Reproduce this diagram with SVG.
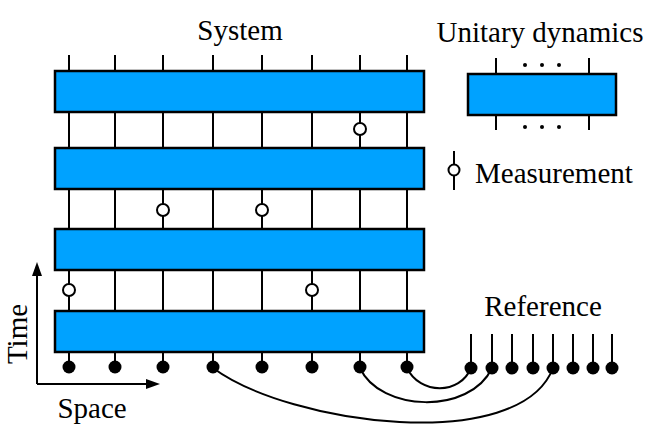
<svg xmlns="http://www.w3.org/2000/svg" width="653" height="438" viewBox="0 0 653 438">
<defs>
<style>
.box{fill:#00a2ff;stroke:#000;stroke-width:2.5}
.w{stroke:#000;stroke-width:2;fill:none}
.m{fill:#fff;stroke:#000;stroke-width:2}
.d{fill:#000}
.t{font-family:"Liberation Serif","Times New Roman",serif;font-size:29px;fill:#000}
.c{stroke:#000;stroke-width:2;fill:none}
</style>
</defs>
<rect width="653" height="438" fill="#fff"/>
<g id="labels">
<text class="t" x="240" y="40" text-anchor="middle">System</text>
<text class="t" x="540" y="42" text-anchor="middle">Unitary dynamics</text>
<text class="t" x="543" y="316" text-anchor="middle">Reference</text>
<text class="t" x="92" y="418" text-anchor="middle">Space</text>
<text class="t" transform="translate(27,334) rotate(-90)" text-anchor="middle">Time</text>
</g>
<g id="wires">
<path class="w" d="M69,55V367M115,55V367M163,55V367M213,55V367M262,55V367M312,55V367M360,55V367M407,55V367"/>
</g>
<g id="gates">
<rect id="layer1" class="box" x="55" y="71" width="369" height="41"/>
<rect id="layer2" class="box" x="55" y="148" width="369" height="41"/>
<rect id="layer3" class="box" x="55" y="229" width="369" height="41"/>
<rect id="layer4" class="box" x="55" y="311" width="369" height="41"/>
</g>
<g id="measurements">
<circle class="m" cx="360" cy="129" r="6"/>
<circle class="m" cx="163" cy="210" r="6"/>
<circle class="m" cx="262" cy="210" r="6"/>
<circle class="m" cx="69" cy="290" r="6"/>
<circle class="m" cx="312" cy="290" r="6"/>
</g>
<g id="connectors">
<path class="c" d="M407,368 C420,395 460,395 471,368"/>
<path class="c" d="M360,368 C380,412 470,415 492,368"/>
<path class="c" d="M213,368 C290,425 520,455 553,368"/>
</g>
<g id="system-dots">
<circle class="d" cx="69" cy="367" r="6.5"/>
<circle class="d" cx="115" cy="367" r="6.5"/>
<circle class="d" cx="163" cy="367" r="6.5"/>
<circle class="d" cx="213" cy="367" r="6.5"/>
<circle class="d" cx="262" cy="367" r="6.5"/>
<circle class="d" cx="312" cy="367" r="6.5"/>
<circle class="d" cx="360" cy="367" r="6.5"/>
<circle class="d" cx="407" cy="367" r="6.5"/>
</g>
<g id="reference">
<path class="w" d="M471,334V368M492,334V368M512,334V368M533,334V368M553,334V368M573,334V368M593,334V368M612,334V368"/>
<circle class="d" cx="471" cy="368" r="6.5"/>
<circle class="d" cx="492" cy="368" r="6.5"/>
<circle class="d" cx="512" cy="368" r="6.5"/>
<circle class="d" cx="533" cy="368" r="6.5"/>
<circle class="d" cx="553" cy="368" r="6.5"/>
<circle class="d" cx="573" cy="368" r="6.5"/>
<circle class="d" cx="593" cy="368" r="6.5"/>
<circle class="d" cx="612" cy="368" r="6.5"/>
</g>
<g id="axes">
<path class="w" d="M37,384V272M37,384H148"/>
<polygon class="d" points="37,262 32,276 42,276"/>
<polygon class="d" points="160,384 146,379 146,389"/>
</g>
<g id="legend-unitary">
<path class="w" d="M496,58V130M589,58V130"/>
<rect class="box" x="468" y="74" width="148" height="41"/>
<circle class="d" cx="525" cy="65" r="2"/>
<circle class="d" cx="542" cy="65" r="2"/>
<circle class="d" cx="559" cy="65" r="2"/>
<circle class="d" cx="525" cy="127" r="2"/>
<circle class="d" cx="542" cy="127" r="2"/>
<circle class="d" cx="559" cy="127" r="2"/>
</g>
<g id="legend-measurement">
<path class="w" d="M454,151V190"/>
<circle class="m" cx="454" cy="170" r="5.5"/>
<text class="t" x="475" y="183">Measurement</text>
</g>
</svg>
